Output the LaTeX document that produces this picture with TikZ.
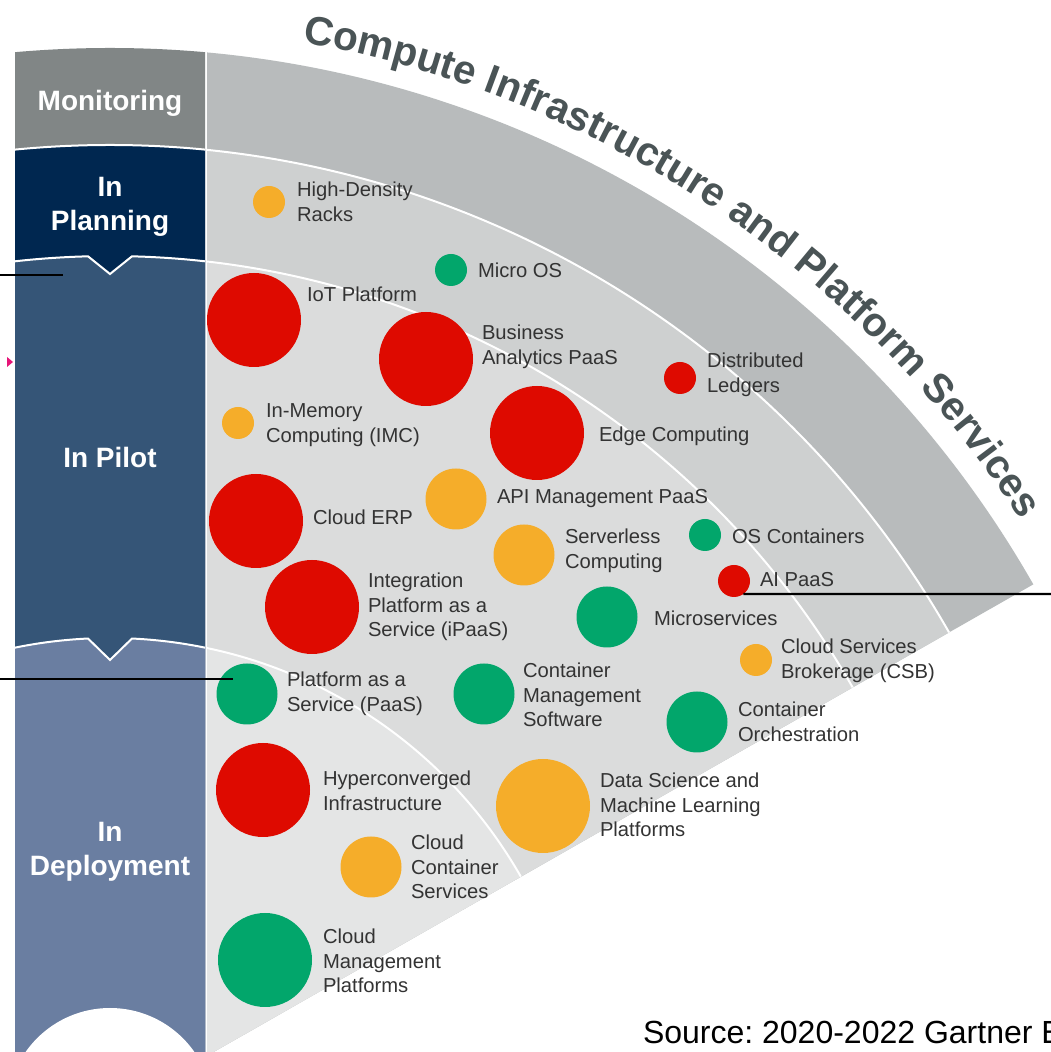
\documentclass[tikz,border=0pt]{standalone}
\usepackage{fontspec}
\setmainfont{Liberation Sans}
\frenchspacing
\usetikzlibrary{decorations.text}

\begin{document}
\begin{tikzpicture}[x=1pt,y=1pt,
  bigdot/.style={circle,inner sep=0pt,outer sep=0pt,minimum size=94pt},
  middot/.style={circle,inner sep=0pt,outer sep=0pt,minimum size=61pt},
  smalldot/.style={circle,inner sep=0pt,outer sep=0pt,minimum size=32pt},
  lbl/.style={text=lblColor,anchor=west,align=left,inner sep=0pt,outer sep=0pt,font=\fontsize{20.2}{24.5}\selectfont},
  colhead/.style={text=white,align=center,inner sep=0pt,outer sep=0pt,font=\fontsize{28}{34}\selectfont\bfseries},
  sepline/.style={draw=white,line width=2pt},
  leader/.style={draw=black,line width=2.2pt}]
\definecolor{fillColor}{RGB}{255,255,255}
\definecolor{redDot}{RGB}{222,10,0}
\definecolor{orangeDot}{RGB}{245,173,42}
\definecolor{greenDot}{RGB}{2,166,107}
\definecolor{lblColor}{RGB}{51,51,51}
\definecolor{titleColor}{RGB}{74,84,86}
\definecolor{monBox}{RGB}{129,134,134}
\definecolor{planBox}{RGB}{0,39,80}
\definecolor{pilotBox}{RGB}{53,85,119}
\definecolor{deployBox}{RGB}{106,126,161}
\definecolor{monBand}{RGB}{184,187,188}
\definecolor{planBand}{RGB}{206,208,208}
\definecolor{pilotBand}{RGB}{219,220,220}
\definecolor{deployBand}{RGB}{228,229,229}
\definecolor{pinkMark}{RGB}{230,20,120}
\path[use as bounding box,fill=fillColor] (0,0) rectangle (1051,1052);

% stage column
\begin{scope}[shift={(110,-59)}]
\clip (-95,59) rectangle (95,1130);
\fill[monBox] (0,0) circle[radius=1063];
\fill[planBox] (0,0) circle[radius=966];
\fill[pilotBox] (0,0) circle[radius=855];
\fill[planBox] (-22,854.7) -- (0,837) -- (22,854.7) -- (22,860) -- (-22,860) -- cycle;
\fill[deployBox] (0,0) circle[radius=473];
\fill[pilotBox] (-22,472.5) -- (0,451) -- (22,472.5) -- (22,478) -- (-22,478) -- cycle;
\fill[white] (0,0) circle[radius=103];
\draw[sepline] (0,0) circle[radius=966];
\draw[sepline] (100:855) arc[start angle=100,end angle=91.474,radius=855] -- (0,837) --
	(88.526:855) arc[start angle=88.526,end angle=80,radius=855];
\draw[sepline] (105:473) arc[start angle=105,end angle=92.666,radius=473] -- (0,451) --
	(87.334:473) arc[start angle=87.334,end angle=75,radius=473];
\end{scope}

\node[colhead] (monitoring) at (110,949) {Monitoring};
\node[colhead] (planning) at (110,845) {In\\Planning};
\node[colhead] (pilot) at (110,595) {In Pilot};
\node[colhead] (deployment) at (110,200) {In\\Deployment};

% fan of bands
\begin{scope}[shift={(110,-59)}]
\clip (97,59) rectangle (1000,1130);
\fill[monBand] (0,0) -- (29.7:1063) arc[start angle=29.7,end angle=90,radius=1063] -- cycle;
\fill[planBand] (0,0) -- (29.7:966) arc[start angle=29.7,end angle=90,radius=966] -- cycle;
\fill[pilotBand] (0,0) -- (29.7:855) arc[start angle=29.7,end angle=90,radius=855] -- cycle;
\fill[deployBand] (0,0) -- (29.7:473) arc[start angle=29.7,end angle=90,radius=473] -- cycle;
\draw[sepline] (29.7:966) arc[start angle=29.7,end angle=90,radius=966];
\draw[sepline] (29.7:855) arc[start angle=29.7,end angle=90,radius=855];
\draw[sepline] (29.7:473) arc[start angle=29.7,end angle=90,radius=473];
\end{scope}

% title along the outer arc
\begin{scope}[shift={(110,-59)}]
\path[decorate,decoration={text along path,text color=titleColor,
	text={|\fontsize{40.5}{48}\selectfont\bfseries|Compute Infrastructure and Platform Services}}]
	(79.8:1086) arc[start angle=79.8,end angle=25,radius=1086];
\end{scope}

% technologies
\node[smalldot,fill=orangeDot] (hdr) at (269,850) {};
\node[lbl] (hdrL) at (297,850) {High-Density\\Racks};
\node[smalldot,fill=greenDot] (microos) at (451,782) {};
\node[lbl] (microosL) at (478,782) {Micro OS};
\node[bigdot,fill=redDot] (iot) at (254,732) {};
\node[lbl] (iotL) at (307,758) {IoT Platform};
\node[bigdot,fill=redDot] (bapaas) at (426,693) {};
\node[lbl] (bapaasL) at (482,705) {Business\\Analytics PaaS};
\node[smalldot,fill=redDot] (dledger) at (680,674) {};
\node[lbl] (dledgerL) at (707,677) {Distributed\\Ledgers};
\node[smalldot,fill=orangeDot] (imc) at (238,629) {};
\node[lbl] (imcL) at (266,627) {In-Memory\\Computing (IMC)};
\node[bigdot,fill=redDot] (edge) at (537,619) {};
\node[lbl] (edgeL) at (599,616) {Edge Computing};
\node[bigdot,fill=redDot] (erp) at (256,531) {};
\node[lbl] (erpL) at (313,535) {Cloud ERP};
\node[middot,fill=orangeDot] (apim) at (456,553) {};
\node[lbl] (apimL) at (497,553) {API Management PaaS};
\node[middot,fill=orangeDot] (serverless) at (524,497) {};
\node[lbl] (serverlessL) at (565,501) {Serverless\\Computing};
\node[smalldot,fill=greenDot] (oscont) at (705,517) {};
\node[lbl] (oscontL) at (732,516) {OS Containers};
\node[smalldot,fill=redDot] (aipaas) at (734,471) {};
\node[lbl] (aipaasL) at (760,472) {AI PaaS};
\node[bigdot,fill=redDot] (ipaas) at (312,445) {};
\node[lbl] (ipaasL) at (368,445) {Integration\\Platform as a\\Service (iPaaS)};
\node[middot,fill=greenDot] (microsvc) at (607,435) {};
\node[lbl] (microsvcL) at (654,434) {Microservices};
\node[smalldot,fill=orangeDot] (csb) at (756,392) {};
\node[lbl] (csbL) at (781,391) {Cloud Services\\Brokerage (CSB)};
\node[middot,fill=greenDot] (paas) at (247,358) {};
\node[lbl] (paasL) at (287,358) {Platform as a\\Service (PaaS)};
\node[middot,fill=greenDot] (cms) at (484,358) {};
\node[lbl] (cmsL) at (523,357) {Container\\Management\\Software};
\node[middot,fill=greenDot] (corch) at (697,330) {};
\node[lbl] (corchL) at (738,330) {Container\\Orchestration};
\node[bigdot,fill=redDot] (hci) at (263,262) {};
\node[lbl] (hciL) at (323,261) {Hyperconverged\\Infrastructure};
\node[bigdot,fill=orangeDot] (dsml) at (543,246) {};
\node[lbl] (dsmlL) at (600,247) {Data Science and\\Machine Learning\\Platforms};
\node[middot,fill=orangeDot] (ccs) at (371,185) {};
\node[lbl] (ccsL) at (411,185) {Cloud\\Container\\Services};
\node[bigdot,fill=greenDot] (cmp) at (265,92) {};
\node[lbl] (cmpL) at (323,91) {Cloud\\Management\\Platforms};

% pointers
\fill[pinkMark] (7,695) -- (13,690) -- (7,685) -- cycle;
\coordinate (ptA) at (0,777);
\coordinate (ptB) at (63,777);
\coordinate (ptC) at (0,373);
\coordinate (ptD) at (233,373);
\coordinate (ptE) at (1051,458);
\draw[leader] (ptA) -- (ptB);
\draw[leader] (ptC) -- (ptD);
\draw[leader] (aipaas.-54) -- (ptE);

\begin{scope}
\clip (0,0) rectangle (1051,1052);
\node[text=black,anchor=base west,inner sep=0pt,outer sep=0pt,font=\fontsize{32}{38}\selectfont] (src) at (643,9) {Source: 2020-2022 Gartner E};
\end{scope}
\end{tikzpicture}
\end{document}
